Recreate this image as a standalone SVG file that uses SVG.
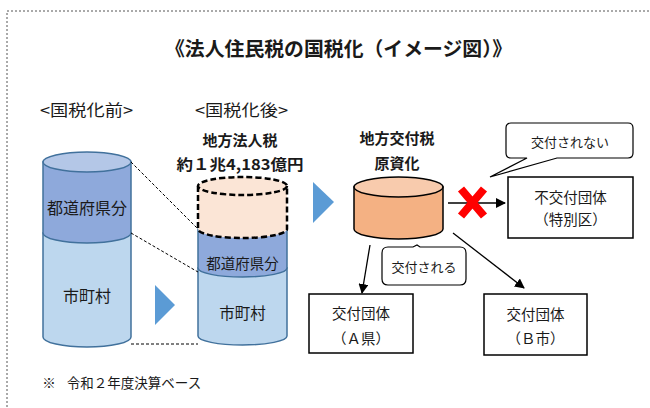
<svg xmlns="http://www.w3.org/2000/svg" width="650" height="408" viewBox="0 0 650 408">
<style>
text{font-family:"Noto Sans CJK JP","Noto Sans",sans-serif;fill:#1a1a1a;text-anchor:middle;dominant-baseline:central}
.b{font-weight:bold}
.box{fill:#fff;stroke:#000;stroke-width:1.5}
.blueS{stroke:#41719C;stroke-width:1.5}
.conn{stroke:#000;stroke-width:1.3;fill:none}
.dl{stroke:#000;stroke-width:1;stroke-dasharray:3,2;fill:none}
</style>
<defs>
<marker id="ah" viewBox="0 0 10 10" refX="9" refY="5" markerWidth="10" markerHeight="10" markerUnits="userSpaceOnUse" orient="auto">
<path d="M0,0 L10,5 L0,10 Z" fill="#000"/>
</marker>
</defs>
<rect x="7" y="11" width="660" height="420" fill="none" stroke="#555" stroke-width="1" stroke-dasharray="2,2"/>
<text x="338.5" y="47" class="b" font-size="19.5" textLength="347" lengthAdjust="spacingAndGlyphs">《法人住民税の国税化（イメージ図）》</text>
<text x="86.5" y="109" font-size="16" textLength="93" lengthAdjust="spacingAndGlyphs">&lt;国税化前&gt;</text>
<text x="241.5" y="109" font-size="16" textLength="93" lengthAdjust="spacingAndGlyphs">&lt;国税化後&gt;</text>
<text x="240" y="139" class="b" font-size="15">地方法人税</text>
<text x="240" y="163" class="b" font-size="15" textLength="127" lengthAdjust="spacingAndGlyphs">約１兆4,183億円</text>
<text x="397" y="137" class="b" font-size="15">地方交付税</text>
<text x="397" y="162" class="b" font-size="15">原資化</text>

<g id="cyl-before">
<path d="M43,233 L43,337 A44,10 0 0 0 131,337 L131,233 Z" fill="#BDD7EE" class="blueS"/>
<path d="M43,162 L43,233 A44,10 0 0 0 131,233 L131,162 Z" fill="#8EA9DB" class="blueS"/>
<ellipse cx="87" cy="162" rx="44" ry="10" fill="#B4C7E7" class="blueS"/>
<text x="87" y="207" font-size="16">都道府県分</text>
<text x="87" y="295" font-size="16">市町村</text>
</g>

<g id="cyl-after">
<path d="M198,268 L198,336 A44.5,9 0 0 0 287,336 L287,268 Z" fill="#BDD7EE" class="blueS"/>
<path d="M198,229 L198,268 A44.5,9 0 0 0 287,268 L287,229 Z" fill="#8EA9DB" class="blueS"/>
<path d="M198,186 L198,229 A44.5,9 0 0 0 287,229 L287,186 Z" fill="#FBE5D6" stroke="#000" stroke-width="2.5" stroke-dasharray="6,3"/>
<ellipse cx="242.5" cy="186" rx="44.5" ry="9" fill="#FBE5D6" stroke="#000" stroke-width="2.5" stroke-dasharray="6,3"/>
<text x="242.5" y="262" font-size="14.5">都道府県分</text>
<text x="242.5" y="312" font-size="15.5">市町村</text>
</g>

<g id="cyl-kofuzei">
<path d="M354,187 L354,229 A44.5,10 0 0 0 443,229 L443,187 Z" fill="#F4B183" stroke="#000" stroke-width="1.5"/>
<ellipse cx="398.5" cy="187" rx="44.5" ry="10" fill="#F8CBAD" stroke="#000" stroke-width="1.5"/>
</g>

<g id="tri1"><path d="M155,285 L175,305 L155,325 Z" fill="#5B9BD5"/></g>
<g id="tri2"><path d="M313,182 L334,202 L313,223 Z" fill="#5B9BD5"/></g>

<g id="box-fukofu">
<rect x="508" y="177" width="125" height="61" class="box"/>
<text x="570.5" y="196" font-size="14.5">不交付団体</text>
<text x="570.5" y="218" font-size="14.5">（特別区）</text>
</g>
<g id="box-a">
<rect x="309" y="294" width="104" height="59" class="box"/>
<text x="361" y="312" font-size="14.5">交付団体</text>
<text x="361" y="337" font-size="14.5">（Ａ県）</text>
</g>
<g id="box-b">
<rect x="484" y="294" width="103" height="61" class="box"/>
<text x="535.5" y="313" font-size="14.5">交付団体</text>
<text x="535.5" y="337" font-size="14.5">（Ｂ市）</text>
</g>

<g id="callout-no">
<path d="M511,123 H628 Q633,123 633,128 V153 Q633,158 628,158 H557 L490,177 L527,158 H511 Q506,158 506,153 V128 Q506,123 511,123 Z" fill="#fff" stroke="#000" stroke-width="1.2"/>
<text x="570" y="141" font-size="13">交付されない</text>
</g>
<g id="callout-yes">
<path d="M388,247 H413 L417,245 L420,247 H460 Q466,247 466,253 V279 Q466,285 460,285 H388 Q382,285 382,279 V253 Q382,247 388,247 Z" fill="#fff" stroke="#000" stroke-width="1.2"/>
<text x="424" y="266" font-size="13">交付される</text>
</g>

<g id="connectors">
<line x1="131" y1="162" x2="198" y2="229" class="dl"/>
<line x1="131" y1="233" x2="198" y2="272" class="dl"/>
<line x1="131" y1="344" x2="198" y2="344" class="dl"/>
<line x1="448" y1="203" x2="505" y2="203" class="conn" marker-end="url(#ah)"/>
<line x1="370" y1="245" x2="362" y2="293" class="conn" marker-end="url(#ah)"/>
<line x1="453" y1="233" x2="524" y2="288" class="conn" marker-end="url(#ah)"/>
</g>
<g id="cross">
<path d="M461,189 L484,216 M484,189 L461,216" stroke="#FF0000" stroke-width="8" fill="none"/>
</g>

<text x="49" y="382" font-size="13.5">※</text>
<text x="134" y="382" font-size="13.5">令和２年度決算ベース</text>
</svg>
